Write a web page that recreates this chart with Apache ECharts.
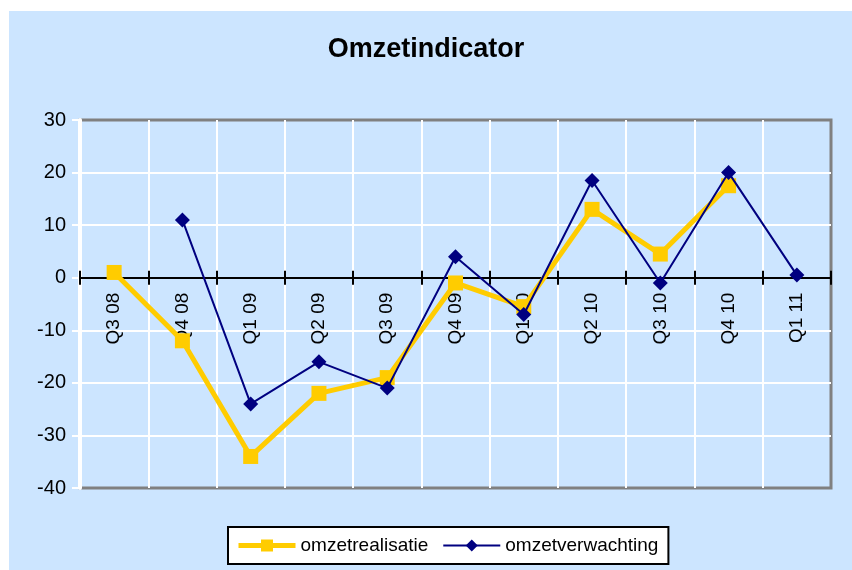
<!DOCTYPE html>
<html>
<head>
<meta charset="utf-8">
<script src="https://cdn.jsdelivr.net/npm/echarts@6/dist/echarts.min.js"></script>
<style>
  html, body { margin: 0; padding: 0; background: #fff; }
  #chart { width: 852px; height: 570px; }
</style>
</head>
<body>
<div id="chart"></div>
<script>
// kwartalen en waarden
const kwartalen = ['Q3 08', 'Q4 08', 'Q1 09', 'Q2 09', 'Q3 09', 'Q4 09', 'Q1 10', 'Q2 10', 'Q3 10', 'Q4 10', 'Q1 11'];
const omzetrealisatie = [1, -12, -34, -22, -19, -1, -5.5, 13, 4.5, 17.5, null];
const omzetverwachting = [null, 11, -24, -16, -21, 4, -7, 18.5, -1, 20, 0.5];

const yMin = -40, yMax = 30;

const chart = echarts.init(document.getElementById('chart'));

const fontFam = '"Liberation Sans", Arial, sans-serif';

// plotgebied
const gridTop = 120, gridBottom = 82, chartH = 570;
const plotH = chartH - gridTop - gridBottom;
const zeroFromTop = plotH * yMax / (yMax - yMin);
const zeroFromBottom = plotH - zeroFromTop;

const option = {
  backgroundColor: '#fff',
  animation: false,
  graphic: [{
    type: 'rect',
    z: -10,
    shape: { x: 9, y: 11, width: 843, height: 559 },
    style: { fill: '#CCE5FF' }
  }],
  title: {
    text: 'Omzetindicator',
    left: 'center',
    top: 31,
    textStyle: { fontFamily: fontFam, fontSize: 27, fontWeight: 'bold', color: '#000' }
  },
  legend: {
    left: 228,
    top: 527,
    padding: [9, 10, 9, 8],
    itemGap: 14,
    itemWidth: 57,
    itemHeight: 15,
    backgroundColor: '#fff',
    borderColor: '#000',
    borderWidth: 2,
    borderRadius: 0,
    textStyle: { fontFamily: fontFam, fontSize: 19, color: '#000' },
    data: [
      { name: 'omzetrealisatie', lineStyle: { width: 5 } },
      { name: 'omzetverwachting', lineStyle: { width: 2 } }
    ]
  },
  grid: {
    left: 80,
    right: 21,
    top: gridTop,
    bottom: gridBottom,
    show: true,
    borderColor: '#808080',
    borderWidth: 3,
    backgroundColor: 'transparent'
  },
  xAxis: [{
    type: 'category',
    data: kwartalen,
    boundaryGap: true,
    position: 'bottom',
    offset: -zeroFromBottom,
    axisLine: { onZero: false, lineStyle: { color: '#000', width: 2 } },
    axisTick: { show: true, length: 7, lineStyle: { color: '#000', width: 2 } },
    axisLabel: {
      interval: 0,
      rotate: 90,
      margin: 15,
      fontFamily: fontFam,
      fontSize: 19,
      color: '#000'
    },
    splitLine: { show: true, showMinLine: true, showMaxLine: false, lineStyle: { color: '#fff', width: 2 } }
  }, {
    // tweede as alleen voor de tickjes boven de nullijn
    type: 'category',
    data: kwartalen,
    boundaryGap: true,
    position: 'top',
    offset: -zeroFromTop,
    axisLine: { onZero: false, lineStyle: { color: '#000', width: 2 } },
    axisTick: { show: true, length: 7, lineStyle: { color: '#000', width: 2 } },
    axisLabel: { show: false },
    splitLine: { show: false }
  }],
  yAxis: {
    type: 'value',
    min: yMin,
    max: yMax,
    interval: 10,
    axisLine: { show: true, lineStyle: { color: '#fff', width: 4 } },
    axisTick: { show: true, length: 8, lineStyle: { color: '#fff', width: 2 } },
    axisLabel: {
      margin: 14,
      fontFamily: fontFam,
      fontSize: 20,
      color: '#000'
    },
    splitLine: { show: true, showMinLine: false, showMaxLine: false, lineStyle: { color: '#fff', width: 2 } }
  },
  series: [{
    name: 'omzetrealisatie',
    type: 'line',
    data: omzetrealisatie,
    symbol: 'rect',
    symbolSize: 15,
    showAllSymbol: true,
    lineStyle: { color: '#FFCC00', width: 5 },
    itemStyle: { color: '#FFCC00' },
    z: 3
  }, {
    name: 'omzetverwachting',
    type: 'line',
    data: omzetverwachting,
    symbol: 'diamond',
    symbolSize: 15,
    showAllSymbol: true,
    lineStyle: { color: '#000080', width: 2 },
    itemStyle: { color: '#000080' },
    z: 4
  }]
};

chart.setOption(option);
</script>
</body>
</html>
